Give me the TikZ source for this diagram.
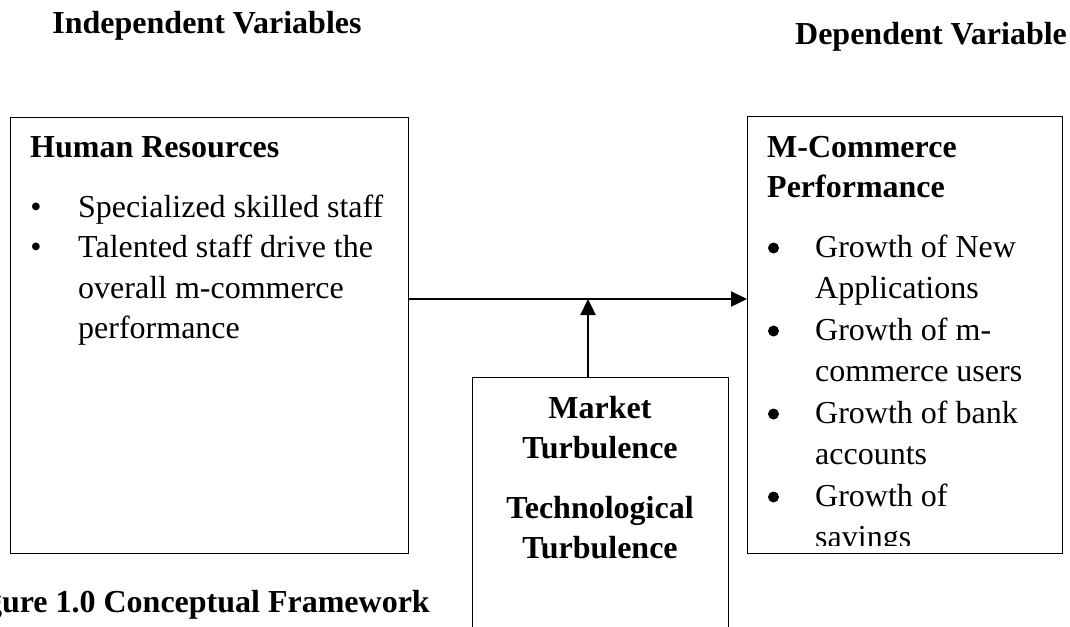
\documentclass[tikz,border=0pt]{standalone}
\usepackage{fontspec}
\setmainfont{Liberation Serif}
\usetikzlibrary{arrows.meta}
\begin{document}
\begin{tikzpicture}[x=1pt,y=-1pt,
  every node/.style={inner sep=0pt, font=\fontsize{32}{40}\selectfont},
  box/.style={draw, line width=1.2pt, anchor=north west},
  flow/.style={line width=2.4pt, -{Triangle[length=16pt,width=15pt]}}]
\useasboundingbox (0,0) rectangle (1070,626);
\node[anchor=base] (iv) at (207,34) {\bfseries Independent Variables};
\node[anchor=base] (dv) at (931,45) {\bfseries Dependent Variable};
% the three boxes
\node[box, minimum width=398pt, minimum height=436pt] (hr) at (10,117) {};
\node[box, minimum width=315pt, minimum height=437pt] (perf) at (747,116) {};
\node[box, minimum width=256pt, minimum height=263pt] (mt) at (472,377) {};
% human resources
\node[anchor=base west] (hrt) at (30,157) {\bfseries Human Resources};
\foreach \txt [count=\i] in {Specialized skilled staff, Talented staff drive the,
    overall m-commerce, performance}
  \node[anchor=base west] (hr\i) at (78,{217+40.5*(\i-1)}) {\txt};
\node[anchor=base] (hb1) at (36,217) {•};
\node[anchor=base] (hb2) at (36,257.5) {•};
% m-commerce performance
\node[anchor=base west] (pt1) at (767,157) {\bfseries M-Commerce};
\node[anchor=base west] (pt2) at (767,197) {\bfseries Performance};
\begin{scope}
  \clip (perf.north west) rectangle (perf.east |- 0,545);
  \foreach \txt [count=\i] in {Growth of New, Applications, Growth of m-,
      commerce users, Growth of bank, accounts, Growth of, savings}
    \node[anchor=base west] (pf\i) at (815,{257+41.5*(\i-1)}) {\txt};
  \foreach \i in {0,2,4,6}
    \fill (773.5,{248+41.5*\i}) circle (5.5);
\end{scope}
% turbulence
\node[anchor=base] (mt1) at (600,418) {\bfseries Market};
\node[anchor=base] (mt2) at (600,458) {\bfseries Turbulence};
\node[anchor=base] (mt3) at (600,518) {\bfseries Technological};
\node[anchor=base] (mt4) at (600,558) {\bfseries Turbulence};
\node[anchor=base east] (cap) at (430,612) {\bfseries Figure 1.0 Conceptual Framework};
% arrows
\coordinate (j) at (588,299);
\draw[flow] (hr.east |- j) -- (perf.west |- j);
\draw[flow] (mt.north -| j) -- (j);
\end{tikzpicture}
\end{document}
